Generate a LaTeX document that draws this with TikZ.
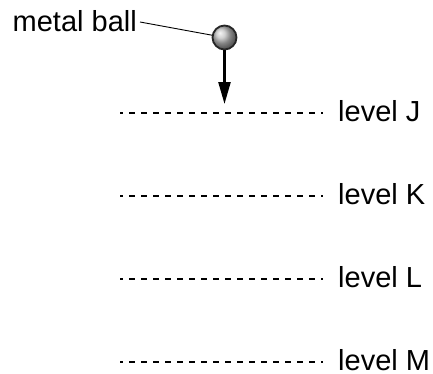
\documentclass[tikz,border=0pt]{standalone}
\usepackage{fontspec}
\setmainfont{Liberation Sans}
\usetikzlibrary{arrows.meta}
\begin{document}
\begin{tikzpicture}[x=1pt,y=-1pt,
  lbl/.style={inner sep=0pt,text depth=0pt,anchor=base west,font=\fontsize{29}{34}\selectfont},
  dashline/.style={line width=2pt,dash pattern=on 6.2pt off 5.8pt,dash phase=3pt,color=black},
  leader/.style={line width=0.9pt},
  fallarrow/.style={line width=2.4pt,-{Triangle[width=12pt,length=22pt]}}]
\useasboundingbox (0,0) rectangle (433,373);
\node[lbl] (mb) at (12.5,31.5) {metal ball};
\node[circle,minimum size=24pt,inner sep=0pt,line width=1.8pt,draw=black!85,ball color=black!25,shading=ball] (ball) at (224.5,37.5) {};
\draw[leader] ([xshift=3pt,yshift=-1pt]mb.east) -- (ball);
\coordinate (tip) at (224.5,104);
\draw[fallarrow] (ball.south) -- (tip);
\foreach \n/\y in {J/113,K/196,L/279,M/362}{
  \coordinate (l\n) at (120,\y);
  \coordinate (r\n) at (323,\y);
  \draw[dashline] (l\n) -- (r\n);
  \node[lbl] (t\n) at (338,\y+8) {level \n};
}
\end{tikzpicture}
\end{document}
